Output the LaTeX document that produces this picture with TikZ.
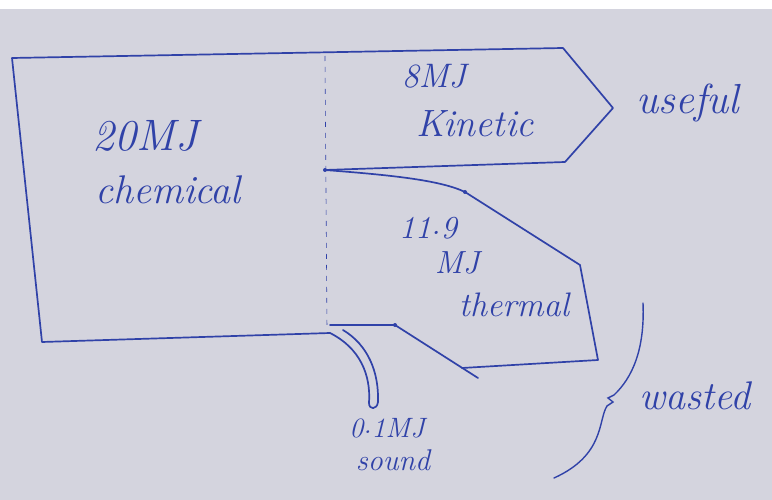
\documentclass[tikz,border=0pt]{standalone}
\usepackage{fontspec}
\definecolor{paper}{RGB}{212,212,222}
\definecolor{inkblue}{RGB}{48,66,168}
\newcommand{\mydot}{\raisebox{0.3ex}{.}}
\begin{document}
\begin{tikzpicture}[x=1pt,y=-1pt,
  ink/.style={draw=inkblue, line width=1.7pt, line join=round, line cap=round},
  lbl/.style={text=inkblue, font=\fontsize{#1}{#1}\selectfont\itshape, inner sep=0pt, anchor=center},
  pendot/.style={fill=inkblue, circle, inner sep=0pt, minimum size=4pt}]
\fill[paper] (0,9) rectangle (772,500);
\fill[white] (0,0) rectangle (772,9);
\useasboundingbox (0,0) rectangle (772,500);
% dashed split line
\draw[inkblue, line width=0.6pt, dash pattern=on 5pt off 6pt] (325,56) -- (327,330);
% main input and kinetic arrow
\coordinate (kb) at (325,170);
\coordinate (bl) at (330,333);
\draw[ink] (kb) -- (565,162) -- (613,108) -- (563,48) -- (12,58) -- (42,342) -- (bl);
% thermal branch
\coordinate (t1) at (465,192);
\coordinate (t2) at (580,265);
\coordinate (t3) at (598,360);
\coordinate (t4) at (462,368);
\coordinate (l1) at (330,325);
\coordinate (l2) at (395,325);
\coordinate (l3) at (478,378);
\draw[ink] (kb) .. controls (390,175) and (440,180) .. (t1) -- (t2) -- (t3) -- (t4);
\draw[ink] (l1) -- (l2) -- (l3);
\node[pendot] (d1) at (kb) {};
\node[pendot] (d2) at (t1) {};
\node[pendot] (d3) at (l2) {};
% sound branch
\coordinate (s1) at (343,330);
\draw[ink] (bl) .. controls (360,348) and (371,375) .. (369,403)
  .. controls (369,410) and (377,410) .. (378,402)
  .. controls (379,372) and (368,345) .. (s1);
% brace for wasted
\coordinate (b0) at (643,303);
\coordinate (b1) at (554,478);
\draw[inkblue, line width=1.4pt, line cap=round] (b0) .. controls (645,350) and (632,378) .. (614,395)
  -- (608,398) -- (613,402) -- (607,406)
  .. controls (598,420) and (605,455) .. (b1);
% labels
\node[lbl=44] (chem1) at (145,136) {20MJ};
\node[lbl=40] (chem2) at (168,190) {chemical};
\node[lbl=34] (kin1) at (434,76) {8MJ};
\node[lbl=38] (kin2) at (475,124) {Kinetic};
\node[lbl=42] (use) at (688,103) {useful};
\node[lbl=32] (th1) at (428,228) {11\mydot9};
\node[lbl=32] (th2) at (457,263) {MJ};
\node[lbl=34] (th3) at (514,305) {thermal};
\node[lbl=28] (so1) at (387,428) {0\mydot1MJ};
\node[lbl=30] (so2) at (393,460) {sound};
\node[lbl=40] (was) at (695,396) {wasted};
\end{tikzpicture}
\end{document}
